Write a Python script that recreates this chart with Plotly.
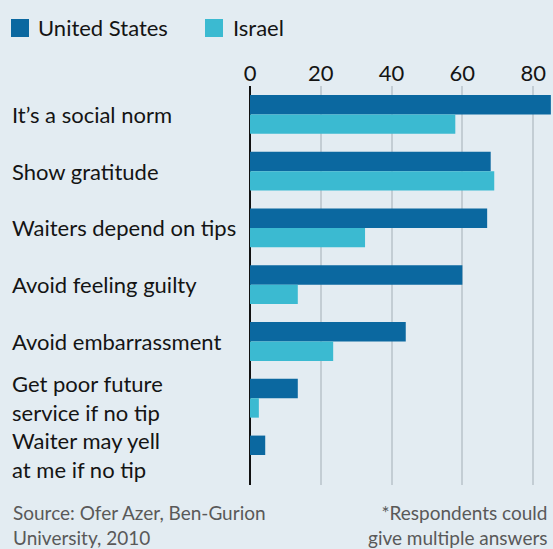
import plotly.graph_objects as go

# Survey: why people tip (share of respondents, %)
reasons = [
    "It’s a social norm",
    "Show gratitude",
    "Waiters depend on tips",
    "Avoid feeling guilty",
    "Avoid embarrassment",
    "Get poor future<br>service if no tip",
    "Waiter may yell<br>at me if no tip",
]
united_states = [85, 68, 67, 60, 44, 13.5, 4.3]
israel = [58, 69, 32.5, 13.5, 23.5, 2.5, 0]
x_ticks = [0, 20, 40, 60, 80]

W, H = 553, 549
L, R, T, B = 250, 0, 86, 64
US_COLOR = "#0b68a0"
IL_COLOR = "#3bbad1"
BG = "#e3ecf2"
FONT = "Lato"


def px_x(px):
    return (px - L) / (W - L - R)


def px_y(py):
    return (H - B - py) / (H - T - B)


fig = go.Figure()
fig.add_trace(go.Bar(y=reasons, x=united_states, orientation="h",
                     marker=dict(color=US_COLOR, line_width=0), name="United States"))
fig.add_trace(go.Bar(y=reasons, x=israel, orientation="h",
                     marker=dict(color=IL_COLOR, line_width=0), name="Israel"))

annotations = []
for r in reasons:
    annotations.append(dict(xref="paper", yref="y", x=px_x(10), y=r, text=r,
                            xanchor="left", yanchor="middle", align="left",
                            showarrow=False, font=dict(family=FONT, size=22, color="#141414")))

# Legend
shapes = []
for sq_x, label_x, color, label in [(11, 36, US_COLOR, "United States"),
                                    (205, 231, IL_COLOR, "Israel")]:
    shapes.append(dict(type="rect", xref="paper", yref="paper",
                       x0=px_x(sq_x), x1=px_x(sq_x + 18), y0=px_y(37), y1=px_y(19),
                       fillcolor=color, line_width=0))
    annotations.append(dict(xref="paper", yref="paper", x=px_x(label_x), y=px_y(28),
                            text=label, xanchor="left", yanchor="middle", showarrow=False,
                            font=dict(family=FONT, size=22, color="#141414")))

# Footnotes
annotations.append(dict(xref="paper", yref="paper", x=px_x(11), y=px_y(525),
                        text="Source: Ofer Azer, Ben-Gurion<br>University, 2010",
                        xanchor="left", yanchor="middle", align="left", showarrow=False,
                        font=dict(family=FONT, size=19, color="#595959")))
annotations.append(dict(xref="paper", yref="paper", x=px_x(550), y=px_y(525),
                        text="*Respondents could<br>give multiple answers",
                        xanchor="right", yanchor="middle", align="right", showarrow=False,
                        font=dict(family=FONT, size=19, color="#595959")))

fig.update_layout(
    width=W, height=H,
    margin=dict(l=L, r=R, t=T, b=B),
    paper_bgcolor=BG, plot_bgcolor=BG,
    barmode="group", bargap=0.316, bargroupgap=0,
    showlegend=False,
    annotations=annotations, shapes=shapes,
    font=dict(family=FONT, color="#141414"),
    xaxis=dict(side="top", range=[0, 85.6], tickvals=x_ticks,
               tickfont=dict(size=22, family=FONT, color="#141414"),
               showgrid=True, gridcolor="#c3cdd4", gridwidth=1.5,
               zeroline=True, zerolinecolor="#111111", zerolinewidth=2,
               ticks="", showline=False),
    yaxis=dict(autorange="reversed", showticklabels=False, showgrid=False,
               ticks="", showline=False, zeroline=False),
)

fig.write_html("out.html")
